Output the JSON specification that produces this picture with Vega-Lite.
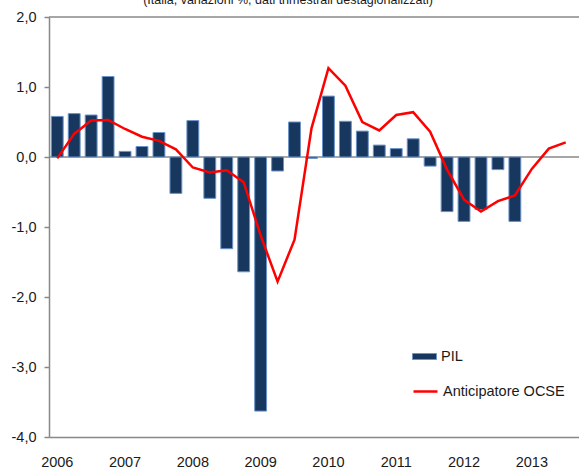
{
  "$schema": "https://vega.github.io/schema/vega-lite/v6.json",
  "width": 530,
  "height": 420,
  "autosize": {"type": "none"},
  "padding": {"left": 49, "top": 17, "right": 0, "bottom": 31},
  "background": "white",
  "config": {"font": "Liberation Sans", "view": {"stroke": null}},
  "title": {
    "text": "(Italia, variazioni %, dati trimestrali destagionalizzati)",
    "fontSize": 12.5,
    "fontWeight": "normal",
    "color": "#1a1a1a",
    "anchor": "middle",
    "frame": "group",
    "dx": -26,
    "dy": 10,
    "baseline": "bottom",
    "offset": 0
  },
  "data": {
    "values": [
      {"q": "2006-Q1", "pil": 0.58, "ocse": -0.02},
      {"q": "2006-Q2", "pil": 0.62, "ocse": 0.33},
      {"q": "2006-Q3", "pil": 0.60, "ocse": 0.52},
      {"q": "2006-Q4", "pil": 1.15, "ocse": 0.53},
      {"q": "2007-Q1", "pil": 0.08, "ocse": 0.40},
      {"q": "2007-Q2", "pil": 0.15, "ocse": 0.29},
      {"q": "2007-Q3", "pil": 0.35, "ocse": 0.23},
      {"q": "2007-Q4", "pil": -0.52, "ocse": 0.11},
      {"q": "2008-Q1", "pil": 0.52, "ocse": -0.15},
      {"q": "2008-Q2", "pil": -0.59, "ocse": -0.22},
      {"q": "2008-Q3", "pil": -1.31, "ocse": -0.19},
      {"q": "2008-Q4", "pil": -1.64, "ocse": -0.36},
      {"q": "2009-Q1", "pil": -3.63, "ocse": -1.12},
      {"q": "2009-Q2", "pil": -0.20, "ocse": -1.78},
      {"q": "2009-Q3", "pil": 0.50, "ocse": -1.18},
      {"q": "2009-Q4", "pil": -0.02, "ocse": 0.41},
      {"q": "2010-Q1", "pil": 0.87, "ocse": 1.27},
      {"q": "2010-Q2", "pil": 0.51, "ocse": 1.02},
      {"q": "2010-Q3", "pil": 0.37, "ocse": 0.50},
      {"q": "2010-Q4", "pil": 0.17, "ocse": 0.38},
      {"q": "2011-Q1", "pil": 0.12, "ocse": 0.60},
      {"q": "2011-Q2", "pil": 0.26, "ocse": 0.64},
      {"q": "2011-Q3", "pil": -0.13, "ocse": 0.36},
      {"q": "2011-Q4", "pil": -0.78, "ocse": -0.18},
      {"q": "2012-Q1", "pil": -0.92, "ocse": -0.61},
      {"q": "2012-Q2", "pil": -0.75, "ocse": -0.78},
      {"q": "2012-Q3", "pil": -0.18, "ocse": -0.63},
      {"q": "2012-Q4", "pil": -0.92, "ocse": -0.55},
      {"q": "2013-Q1", "pil": null, "ocse": -0.17},
      {"q": "2013-Q2", "pil": null, "ocse": 0.12},
      {"q": "2013-Q3", "pil": null, "ocse": 0.21}
    ]
  },
  "layer": [
    {
      "data": {"values": [{"ref": 0}, {"ref": 2}]},
      "mark": {"type": "rule", "color": "#888888", "strokeWidth": 1.5},
      "encoding": {
        "y": {
          "field": "ref", "type": "quantitative",
          "scale": {"domain": [-4, 2], "nice": false, "zero": false},
          "axis": {
            "title": null, "values": [-4, -3, -2, -1, 0, 1, 2], "grid": false,
            "labelExpr": "(datum.value < 0 ? '-' : '') + abs(datum.value) + ',0'",
            "labelFontSize": 14.5, "labelColor": "#1a1a1a", "labelPadding": 8,
            "tickSize": 5, "tickColor": "#888888", "tickWidth": 1.5,
            "domainColor": "#888888", "domainWidth": 1.5
          }
        }
      }
    },
    {
      "mark": {"type": "bar", "stroke": "#6a93c9", "strokeWidth": 1},
      "encoding": {
        "x": {
          "field": "q", "type": "ordinal", "sort": null,
          "scale": {"paddingInner": 0.3, "paddingOuter": 0.285, "align": 0.24},
          "axis": {
            "title": null, "ticks": false, "labelAngle": 0, "labelPadding": 18,
            "labelFontSize": 14.5, "labelColor": "#1a1a1a",
            "domainColor": "#888888", "domainWidth": 1.5,
            "labelExpr": "indexof(datum.value, 'Q1') >= 0 ? slice(datum.value, 0, 4) : ''"
          }
        },
        "y": {"field": "pil", "type": "quantitative"},
        "fill": {
          "datum": "PIL",
          "scale": {"range": ["#17375e"]},
          "legend": {
            "title": null, "orient": "none", "legendX": 363, "legendY": 327,
            "symbolType": "M-1,-0.25H1V0.25H-1Z", "symbolSize": 576,
            "symbolStrokeColor": "#6a93c9", "symbolStrokeWidth": 1,
            "labelFontSize": 14.5, "labelColor": "#1a1a1a", "labelOffset": 4, "padding": 0
          }
        }
      }
    },
    {
      "mark": {"type": "line", "strokeWidth": 2.5},
      "encoding": {
        "x": {"field": "q", "type": "ordinal", "sort": null},
        "y": {"field": "ocse", "type": "quantitative"},
        "stroke": {
          "datum": "Anticipatore OCSE",
          "scale": {"range": ["#ff0000"]},
          "legend": {
            "title": null, "orient": "none", "legendX": 363, "legendY": 361,
            "symbolType": "stroke", "symbolSize": 576, "symbolStrokeWidth": 2.5,
            "labelFontSize": 14.5, "labelColor": "#1a1a1a", "labelOffset": 4, "padding": 0
          }
        }
      }
    }
  ]
}
